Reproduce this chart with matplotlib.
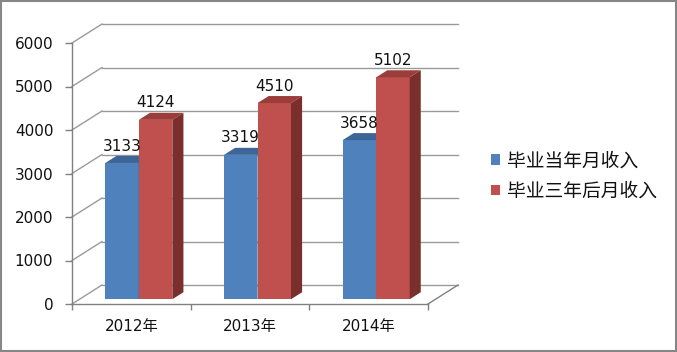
import matplotlib
matplotlib.use("Agg")
import matplotlib.pyplot as plt
from matplotlib.patches import Rectangle, Polygon, Patch
from matplotlib.lines import Line2D

plt.rcParams['font.family'] = ['Noto Sans CJK SC', 'DejaVu Sans']

categories = ['2012年', '2013年', '2014年']
series_names = ['毕业当年月收入', '毕业三年后月收入']
income_first_year = [3133, 3319, 3658]
income_third_year = [4124, 4510, 5102]
yticks = [0, 1000, 2000, 3000, 4000, 5000, 6000]

front_colors = ['#4f81bd', '#c0504d']
top_colors = ['#3d6598', '#9b3d3b']
side_colors = ['#2f4e78', '#7b2f2d']
grid_color = '#9a9a9a'
text_color = '#111111'

W_PX, H_PX = 677, 352
fig = plt.figure(figsize=(W_PX / 100, H_PX / 100), dpi=100)
left_px, right_px, top_px, bottom_px = 72, 428, 43, 304
ax = fig.add_axes([left_px / W_PX, 1 - bottom_px / H_PX,
                   (right_px - left_px) / W_PX, (bottom_px - top_px) / H_PX])
ax.set_xlim(-0.5, len(categories) - 0.5)
ax.set_ylim(0, 6000)

# pixel -> data conversions for the 3D depth
xu = (len(categories)) / (right_px - left_px)
yu = 6000 / (bottom_px - top_px)
DX, DY = 30 * xu, 19 * yu          # full depth of the box
f_front = 0.25                      # bar front depth fraction
f_side = 0.37                       # bar depth fraction
ox, oy = f_front * DX, f_front * DY
sx, sy = f_side * DX, f_side * DY
bw = 33.5 * xu

x0, x1 = -0.5, len(categories) - 0.5
# back wall and side wall gridlines
for v in yticks:
    ax.plot([x0, x0 + DX], [v, v + DY], color=grid_color, lw=1, clip_on=False, zorder=1)
    ax.plot([x0 + DX, x1 + DX], [v + DY, v + DY], color=grid_color, lw=1, clip_on=False, zorder=1)
# floor right edge
ax.plot([x1, x1 + DX], [0, DY], color='#808080', lw=1, clip_on=False, zorder=1)

# bars
for i in range(len(categories)):
    for k, vals in enumerate([income_first_year, income_third_year]):
        v = vals[i]
        xa = i - bw + k * bw + ox
        xb = xa + bw
        ax.add_patch(Rectangle((xa, oy), bw, v, facecolor=front_colors[k], edgecolor='none',
                               clip_on=False, zorder=3 + k))
        ax.add_patch(Polygon([(xa, oy + v), (xb, oy + v), (xb + sx, oy + v + sy), (xa + sx, oy + v + sy)],
                             closed=True, facecolor=top_colors[k], edgecolor='none', clip_on=False, zorder=3 + k))
        ax.add_patch(Polygon([(xb, oy), (xb + sx, oy + sy), (xb + sx, oy + v + sy), (xb, oy + v)],
                             closed=True, facecolor=side_colors[k], edgecolor='none', clip_on=False, zorder=3 + k))
        ax.annotate(str(v), xy=((xa + xb) / 2, oy + v), xytext=(0, 12.2), textcoords='offset points',
                    ha='center', va='center', fontsize=11, color=text_color,
                    family=['DejaVu Sans'], zorder=6)

# axes styling
for s in ['top', 'right']:
    ax.spines[s].set_visible(False)
for s in ['left', 'bottom']:
    ax.spines[s].set_color('#808080')
    ax.spines[s].set_linewidth(1)
ax.set_yticks(yticks)
ax.set_yticklabels([str(t) for t in yticks], fontsize=11, family=['DejaVu Sans'])
ax.tick_params(axis='y', direction='out', length=5, width=1, color='#808080', pad=8.5, labelcolor=text_color)
ax.set_xticks(range(len(categories)))
ax.set_xticklabels(categories, fontsize=11, family=['DejaVu Sans', 'Noto Sans CJK SC'])
ax.set_xticks([x0 + j for j in range(len(categories) + 1)], minor=True)
ax.tick_params(axis='x', which='major', length=0, pad=11, labelcolor=text_color)
ax.tick_params(axis='x', which='minor', direction='out', length=4, width=1, color='#808080')
ax.set_facecolor('none')

# legend
handles = [Patch(facecolor=c, edgecolor='none') for c in front_colors]
leg = fig.legend(handles, series_names, loc='center left', bbox_to_anchor=(491 / W_PX, 1 - 176 / H_PX),
                 frameon=False, fontsize=13.5, handlelength=0.5, handleheight=0.5, handletextpad=0.35,
                 labelspacing=0.5, borderpad=0, borderaxespad=0)
for t in leg.get_texts():
    t.set_color(text_color)

# figure border
fig.add_artist(Rectangle((0, 0), 1, 1, transform=fig.transFigure, fill=False,
                         edgecolor='#868686', lw=2.2))
fig.add_artist(Line2D([1 - 1.5 / W_PX, 1 - 1.5 / W_PX], [0, 1], transform=fig.transFigure,
                      color='#868686', lw=2.2))
fig.add_artist(Line2D([0, 1], [1.5 / H_PX, 1.5 / H_PX], transform=fig.transFigure,
                      color='#868686', lw=2.2))

fig.savefig('out.png', dpi=100)
